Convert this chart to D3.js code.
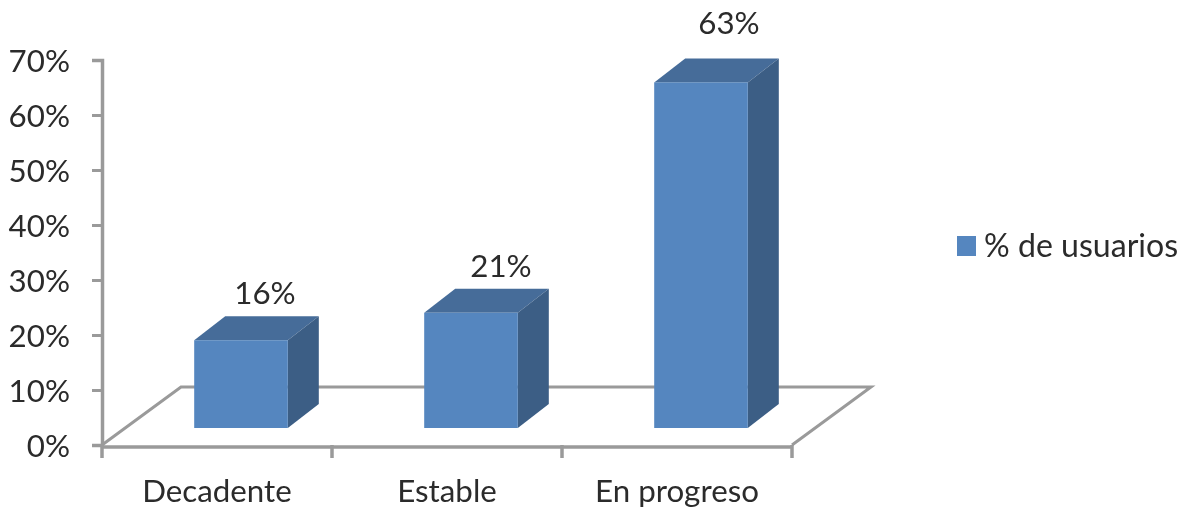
<!DOCTYPE html>
<html><head><meta charset="utf-8">
<script src="https://cdn.jsdelivr.net/npm/d3@7"></script>
<style>html,body{margin:0;padding:0;background:#fff}svg{display:block}text{font-family:Lato,sans-serif;fill:#2b2b2b}</style>
</head><body><svg id="c" width="1187" height="508"></svg>
<script>
const categories = ["Decadente","Estable","En progreso"];
const values = [16,21,63];
const tickLabels = [0,10,20,30,40,50,60,70];
const seriesName = "% de usuarios";
const labelNudgeX = [0,6,4];
const labelNudgeY = [0,0,-12];

const svg = d3.select("#c");
const g = svg.append("g").style("filter","blur(0.6px)");
const grey="#9a9a9a", front="#5586bf", top_="#466c99", side="#3c5e85";
const fs=31.3;

const y = d3.scaleLinear().domain([0,70]).range([445,60]);
const h = d3.scaleLinear().domain([0,70]).range([0,384]);
const x = d3.scaleBand().domain(categories).range([102,792]);
const depthX=31, depthY=24, floorDX=79, floorDY=58, frontY=428;
const barW=x.bandwidth()*0.407, barShift=24;

// floor
g.append("path").attr("fill","none").attr("stroke",grey).attr("stroke-width",3)
 .attr("d",d3.line()([[102,445],[102+floorDX,445-floorDY],[792+floorDX,445-floorDY],[792,445]]));
// y axis
const ya=g.append("g").attr("transform","translate(102,0)")
 .call(d3.axisLeft(y).tickValues(tickLabels).tickFormat(d=>d+"%").tickSize(10).tickPadding(20));
// x axis
const xt=[...categories.map(c=>x(c)),792];
const xa=g.append("g");
xa.append("line").attr("x1",102).attr("x2",792).attr("y1",447).attr("y2",447);
xa.selectAll(".t").data(xt).join("line").attr("class","t").attr("x1",d=>d).attr("x2",d=>d).attr("y1",445).attr("y2",458);
xa.selectAll("line").attr("stroke",grey).attr("stroke-width",3.5);
ya.select(".domain").attr("stroke",grey).attr("stroke-width",3.5);
ya.selectAll(".tick line").attr("stroke",grey).attr("stroke-width",3);
ya.selectAll("text").attr("font-size",fs).attr("fill","#2b2b2b").attr("font-family","Lato,sans-serif");
ya.selectAll(".tick text").attr("x",-32).attr("dy","0.37em");
g.selectAll(".cat").data(categories).join("text").attr("class","cat")
 .attr("x",d=>x(d)+x.bandwidth()/2).attr("y",502).attr("text-anchor","middle").attr("font-size",fs).text(d=>d);

// bars
const bars=g.selectAll(".bar").data(categories.map((c,i)=>({c,v:values[i],i}))).join("g").attr("class","bar");
const X0=d=>x(d.c)+(x.bandwidth()-barW)/2+barShift;
const T=d=>frontY-h(d.v);
bars.append("path").attr("fill",top_).attr("d",d=>d3.line()([[X0(d),T(d)],[X0(d)+depthX,T(d)-depthY],[X0(d)+barW+depthX,T(d)-depthY],[X0(d)+barW,T(d)]])+"Z");
bars.append("path").attr("fill",side).attr("d",d=>d3.line()([[X0(d)+barW,T(d)],[X0(d)+barW+depthX,T(d)-depthY],[X0(d)+barW+depthX,frontY-depthY],[X0(d)+barW,frontY]])+"Z");
bars.append("rect").attr("fill",front).attr("x",X0).attr("y",T).attr("width",barW).attr("height",d=>h(d.v));
bars.append("text").attr("x",d=>X0(d)+barW/2+24+labelNudgeX[d.i]).attr("y",d=>T(d)-36+labelNudgeY[d.i]).attr("text-anchor","middle").attr("font-size",fs).text(d=>d.v+"%");

// legend
g.append("rect").attr("x",957).attr("y",236).attr("width",19).attr("height",20).attr("fill",front);
g.append("text").attr("x",984).attr("y",257).attr("font-size",32.1).text(seriesName);
</script></body></html>
